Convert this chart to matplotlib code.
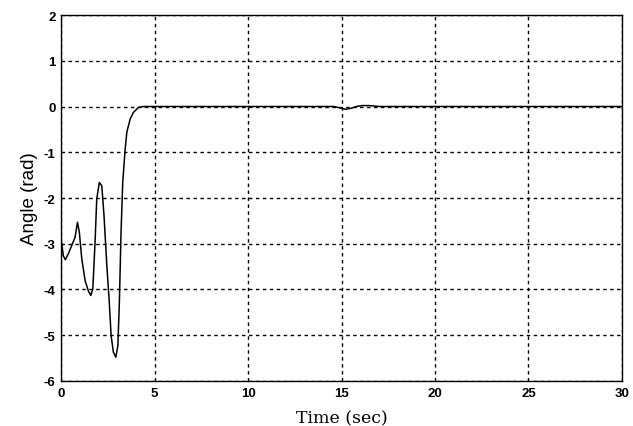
import matplotlib
matplotlib.use('Agg')
import matplotlib.pyplot as plt
import numpy as np

plt.rcParams['axes.unicode_minus'] = False

# angle response
time_s = [0.0, 0.04, 0.12, 0.23, 0.39, 0.57, 0.75, 0.88, 0.98, 1.11, 1.29, 1.46,
          1.59, 1.70, 1.82, 1.91, 2.05, 2.18, 2.30, 2.45, 2.57, 2.68, 2.80, 2.93,
          3.04, 3.12, 3.21, 3.30, 3.43, 3.52, 3.70, 3.87, 4.14, 4.41, 6.0, 10.0,
          14.6, 14.9, 15.2, 15.5, 15.8, 16.1, 16.5, 17.0, 20.0, 25.0, 30.0]
angle_rad = [-3.0, -2.99, -3.26, -3.35, -3.22, -3.04, -2.86, -2.53, -2.75, -3.33, -3.81, -4.03,
             -4.13, -3.99, -2.97, -2.02, -1.66, -1.73, -2.39, -3.48, -4.21, -5.01, -5.37, -5.48,
             -5.23, -4.28, -2.75, -1.66, -0.93, -0.56, -0.27, -0.13, -0.02, 0.0, 0.0, 0.0,
             0.0, -0.03, -0.06, -0.04, 0.0, 0.02, 0.02, 0.0, 0.0, 0.0, 0.0]

x_ticks = [0, 5, 10, 15, 20, 25, 30]
y_ticks = [-6, -5, -4, -3, -2, -1, 0, 1, 2]

fig = plt.figure(figsize=(6.33, 4.27), dpi=100)
ax = fig.add_axes([0.0964, 0.1054, 0.8862, 0.8571])

ax.plot(time_s, angle_rad, color='black', linewidth=1.1)

ax.set_xlim(0, 30)
ax.set_ylim(-6, 2)
ax.set_xticks(x_ticks)
ax.set_yticks(y_ticks)
ax.grid(True, color='black', linestyle=(0, (2.5, 2.5)), linewidth=1.0)
ax.tick_params(length=0, pad=4)
for lab in ax.get_xticklabels() + ax.get_yticklabels():
    lab.set_fontfamily('Liberation Sans')
    lab.set_fontweight('bold')
    lab.set_fontsize(9.5)
for sp in ax.spines.values():
    sp.set_linewidth(1.0)

ax.set_xlabel('Time (sec)', family='DejaVu Serif', fontsize=12.5, labelpad=8)
ax.set_ylabel('Angle (rad)', family='Liberation Sans', fontsize=13.5, labelpad=4)

fig.savefig('out.png', dpi=100)
